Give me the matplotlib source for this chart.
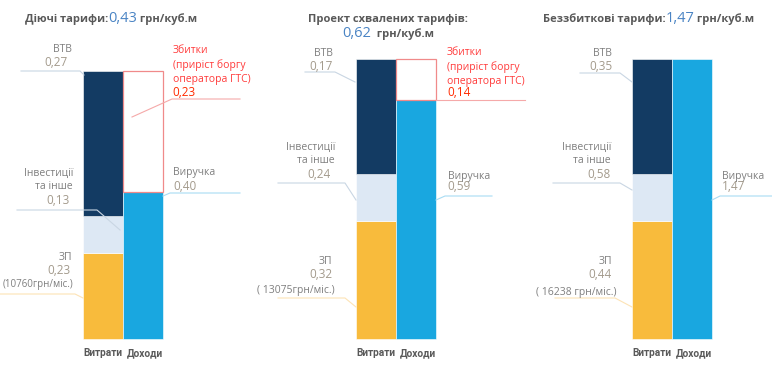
import matplotlib
matplotlib.use("Agg")
import matplotlib.pyplot as plt
from matplotlib.lines import Line2D

# ---------------- data ----------------
panel_titles = [
    [[("Діючі тарифи:", "t"), ("0,43", "n"), (" грн/куб.м", "t")]],
    [[("Проект схвалених тарифів:", "t")], [("0,62", "n"), ("  грн/куб.м", "t")]],
    [[("Беззбиткові тарифи:", "t"), ("1,47", "n"), (" грн/куб.м", "t")]],
]
bar_names = ["Витрати", "Доходи"]
cost_names = ["ЗП", "Інвестиції\nта інше", "ВТВ"]
rev_names = ["Виручка", "Збитки\n(приріст боргу\nоператора ГТС)"]

# values printed on the chart (грн/куб.м)
cost_values = [[0.23, 0.13, 0.27], [0.32, 0.24, 0.17], [0.44, 0.58, 0.35]]
rev_values = [[0.40, 0.23], [0.59, 0.14], [1.47]]
salary_notes = ["(10760грн/міс.)", "( 13075грн/міс.)", "( 16238 грн/міс.)"]

# visual share of bar height of each segment (as drawn in the picture)
cost_shares = [[0.32, 0.14, 0.54], [0.42, 0.17, 0.41], [0.42, 0.17, 0.41]]
rev_shares = [[0.55, 0.45], [0.855, 0.145], [1.0]]

# ---------------- style ----------------
W, H = 772, 381
C_DARK = "#133b63"
C_LIGHT = "#dde8f4"
C_YEL = "#f8bb3c"
C_BLUE = "#19a7e0"
C_RED = "#ff3b3b"
C_TITLE = "#595959"
C_LAB = "#7f7f7f"
C_VAL = "#a39a8c"
C_NUM = "#4a84c4"
FONT = "Open Sans"

plt.rcParams["font.family"] = [FONT, "DejaVu Sans"]

fig = plt.figure(figsize=(W / 100, H / 100), dpi=100)
fig.patch.set_facecolor("white")
renderer = fig.canvas.get_renderer()


def fx(x):
    return x / W


def fy(y):
    return 1 - y / H


def ftext(x, y, s, **kw):
    kw.setdefault("va", "center")
    kw.setdefault("fontsize", 7.5)
    return fig.text(fx(x), fy(y), s, **kw)


def fline(xs, ys, color, lw=0.8):
    fig.add_artist(Line2D([fx(v) for v in xs], [fy(v) for v in ys],
                          transform=fig.transFigure, color=color, lw=lw))


def rich(parts, x, y, ha="left"):
    props = {"t": dict(fontsize=8, fontweight="bold", color=C_TITLE),
             "n": dict(fontsize=10.5, color=C_NUM)}
    arts = []
    widths = []
    for s, k in parts:
        t = fig.text(0, 0, s, va="baseline", **props[k])
        bb = t.get_window_extent(renderer)
        arts.append(t)
        widths.append(bb.width)
    total = sum(widths)
    cur = x - (total / 2 if ha == "center" else 0)
    for t, w in zip(arts, widths):
        t.set_position((fx(cur), fy(y)))
        cur += w


fmt = lambda v: f"{v:.2f}".replace(".", ",")

# panel geometry in pixels: (x0, x1, ytop, ybottom)
geoms = [(83, 163, 71, 339), (356, 436, 59, 339), (632, 712, 59, 339)]
label_shift = [0.0, 0.05]

for i, (x0, x1, yt, yb) in enumerate(geoms):
    ax = fig.add_axes([fx(x0), fy(yb), (x1 - x0) / W, (yb - yt) / H])
    ax.set_xlim(-0.5, 1.5)
    ax.set_ylim(0, 1)
    cost_cols = [C_YEL, C_LIGHT, C_DARK]
    bottom = 0
    for sh, col in zip(cost_shares[i], cost_cols):
        ax.bar(0, sh, bottom=bottom, width=1, color=col, edgecolor="white",
               lw=0.4, clip_on=False)
        bottom += sh
    bottom = 0
    for j, sh in enumerate(rev_shares[i]):
        if j == 0:
            ax.bar(1, sh, bottom=bottom, width=1, color=C_BLUE, edgecolor="white",
                   lw=0.4, clip_on=False)
        else:
            ax.bar(1, sh, bottom=bottom, width=1, facecolor="white",
                   edgecolor="#f08a8a", lw=0.9, clip_on=False, zorder=3)
        bottom += sh
    for sp in ax.spines.values():
        sp.set_visible(False)
    ax.set_yticks([])
    ax.set_xticks([])
    dy = 17 / (yb - yt)
    for k, name in enumerate(bar_names):
        ax.text(k + label_shift[k], -dy, name, ha="center", va="baseline",
                fontsize=7.3, fontweight="bold", color=C_TITLE,
                family=["Roboto", "DejaVu Sans"], clip_on=False)

# ---- titles ----
rich(panel_titles[0][0], 25, 22)
rich(panel_titles[1][0], 388, 22, ha="center")
rich(panel_titles[1][1], 388, 37, ha="center")
rich(panel_titles[2][0], 543, 22)

# ---- labels panel 1 ----
C_LL = "#c9d6e3"
C_PL = "#f5a9a9"
C_BL = "#a8dcf3"
C_YL = "#fde3b5"

# ВТВ
ftext(72, 50, cost_names[2], ha="right", color=C_LAB)
ftext(68, 63, fmt(cost_values[0][2]), ha="right", color=C_VAL, fontsize=8.5)
fline([21, 80, 84], [71, 71, 75], C_LL)
# Збитки
ftext(173, 65, rev_names[1], ha="left", color=C_RED, linespacing=1.35)
ftext(172, 92, fmt(rev_values[0][1]), ha="left", color="#ff2a00", fontsize=8.5)
fline([132, 172, 240], [117, 99, 99], C_PL)
# Інвестиції
ftext(73, 180, cost_names[1], ha="right", color=C_LAB, linespacing=1.35)
ftext(70, 201, fmt(cost_values[0][1]), ha="right", color=C_VAL, fontsize=8.5)
fline([17, 97, 120], [210, 210, 230], C_LL)
# Виручка
ftext(173, 173, rev_names[0], ha="left", color=C_LAB)
ftext(173, 186, fmt(rev_values[0][0]), ha="left", color=C_VAL, fontsize=8.5)
fline([163, 170, 240], [196, 193, 193], C_BL)
# ЗП
ftext(72, 258, cost_names[0], ha="right", color=C_LAB)
ftext(70, 271, fmt(cost_values[0][0]), ha="right", color=C_VAL, fontsize=8.5)
ftext(73, 285, salary_notes[0], ha="right", color=C_LAB, fontsize=7)
fline([0, 75, 83], [294, 294, 298], C_YL)

# ---- labels panel 2 ----
ftext(333, 53, cost_names[2], ha="right", color=C_LAB)
ftext(333, 66, fmt(cost_values[1][2]), ha="right", color=C_VAL, fontsize=8.5)
fline([305, 335, 355], [72, 72, 82], C_LL)
ftext(447, 67, rev_names[1], ha="left", color=C_RED, linespacing=1.35)
ftext(447, 92, fmt(rev_values[1][1]), ha="left", color="#ff2a00", fontsize=8.5)
fline([436, 525], [100, 100], C_PL)
ftext(335, 154, cost_names[1], ha="right", color=C_LAB, linespacing=1.35)
ftext(331, 175, fmt(cost_values[1][1]), ha="right", color=C_VAL, fontsize=8.5)
fline([278, 345, 356], [183, 183, 200], C_LL)
ftext(448, 176, rev_names[0], ha="left", color=C_LAB)
ftext(447, 187, fmt(rev_values[1][0]), ha="left", color=C_VAL, fontsize=8.5)
fline([436, 445, 492], [200, 196, 196], C_BL)
ftext(332, 262, cost_names[0], ha="right", color=C_LAB)
ftext(332, 274, fmt(cost_values[1][0]), ha="right", color=C_VAL, fontsize=8.5)
ftext(335, 290, salary_notes[1], ha="right", color=C_LAB)
fline([278, 345, 356], [298, 298, 307], C_YL)

# ---- labels panel 3 ----
ftext(612, 53, cost_names[2], ha="right", color=C_LAB)
ftext(612, 67, fmt(cost_values[2][2]), ha="right", color=C_VAL, fontsize=8.5)
fline([580, 620, 632], [73, 73, 82], C_LL)
ftext(611, 154, cost_names[1], ha="right", color=C_LAB, linespacing=1.35)
ftext(611, 175, fmt(cost_values[2][1]), ha="right", color=C_VAL, fontsize=8.5)
fline([553, 620, 632], [183, 183, 190], C_LL)
ftext(722, 176, rev_names[0], ha="left", color=C_LAB)
ftext(722, 187, fmt(rev_values[2][0]), ha="left", color=C_VAL, fontsize=8.5)
fline([712, 720, 772], [200, 196, 196], C_BL)
ftext(612, 262, cost_names[0], ha="right", color=C_LAB)
ftext(612, 274, fmt(cost_values[2][0]), ha="right", color=C_VAL, fontsize=8.5)
ftext(616, 292, salary_notes[2], ha="right", color=C_LAB)
fline([555, 615, 632], [298, 298, 307], C_YL)

fig.savefig("out.png", dpi=100, facecolor="white")
